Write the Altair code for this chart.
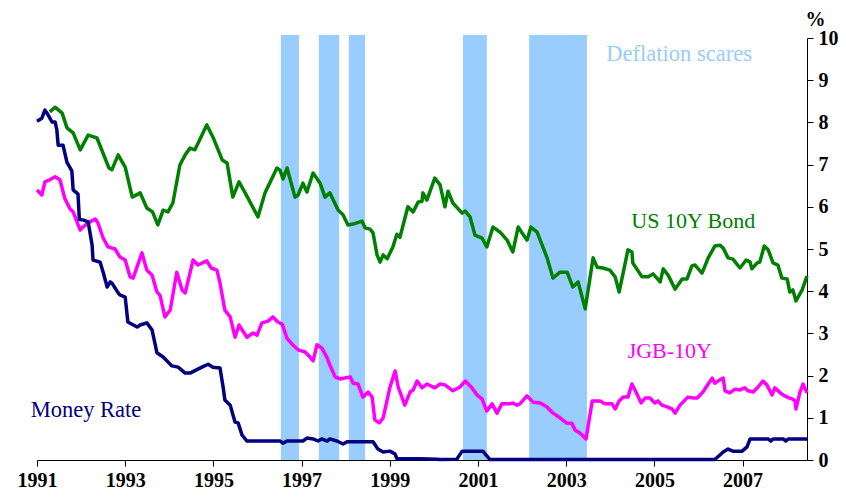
import altair as alt
import pandas as pd

BASE = 1991

# US 10Y Bond yield (years after 1991, %)
us_t = [0.29,0.41,0.57,0.68,0.82,0.98,1.16,1.36,1.63,1.70,
        1.84,2.00,2.16,2.34,2.49,2.62,2.74,2.86,2.97,3.08,
        3.24,3.36,3.47,3.58,3.85,3.99,4.20,4.31,4.44,4.58,
        4.72,5.01,5.17,5.44,5.51,5.58,5.67,5.85,5.92,6.03,
        6.12,6.26,6.42,6.53,6.64,6.83,6.94,7.05,7.17,7.37,
        7.44,7.55,7.62,7.71,7.78,7.85,7.94,8.07,8.16,8.23,
        8.41,8.53,8.64,8.73,8.75,8.84,9.02,9.14,9.25,9.32,
        9.43,9.64,9.71,9.82,9.93,10.09,10.20,10.34,10.50,10.66,
        10.79,10.91,11.11,11.20,11.34,11.56,11.70,11.86,12.02,12.15,
        12.27,12.43,12.61,12.70,12.83,12.99,13.11,13.20,13.40,13.49,
        13.51,13.72,13.86,13.97,14.13,14.20,14.31,14.47,14.63,14.74,
        14.85,14.92,15.08,15.22,15.37,15.49,15.56,15.67,15.78,15.94,
        16.08,16.17,16.21,16.33,16.39,16.49,16.58,16.69,16.80,16.89,
        17.01,17.07,17.14,17.21,17.35,17.46]
us_v = [8.25,8.36,8.22,7.87,7.75,7.35,7.70,7.63,6.92,6.88,
        7.23,6.94,6.23,6.33,5.97,5.88,5.57,5.92,5.88,6.09,
        6.99,7.23,7.39,7.35,7.94,7.65,7.11,7.04,6.23,6.59,
        6.33,5.76,6.33,6.92,6.87,6.66,6.92,6.23,6.28,6.56,
        6.35,6.80,6.56,6.23,6.33,5.92,5.81,5.57,5.59,5.66,
        5.50,5.47,5.38,4.86,4.69,4.86,4.77,5.05,5.35,5.28,
        6.00,5.88,6.11,6.13,6.33,6.16,6.68,6.52,6.00,6.37,
        6.09,5.85,5.90,5.76,5.33,5.26,5.05,5.52,5.40,5.21,
        4.93,5.52,5.21,5.52,5.40,4.81,4.31,4.45,4.45,4.10,
        4.22,3.58,4.79,4.57,4.55,4.50,4.34,3.98,4.98,4.93,
        4.67,4.34,4.34,4.41,4.22,4.53,4.38,4.05,4.29,4.29,
        4.60,4.62,4.43,4.79,5.07,5.09,5.02,4.79,4.76,4.55,
        4.74,4.69,4.53,4.67,4.69,5.07,4.98,4.67,4.62,4.31,
        4.29,3.98,4.03,3.77,4.03,4.36]

# JGB 10Y yield
jgb_t = [0,0.11,0.18,0.29,0.41,0.52,0.63,0.75,0.82,0.98,
         1.04,1.16,1.32,1.38,1.50,1.61,1.77,1.88,2.00,2.11,
         2.18,2.38,2.49,2.61,2.72,2.79,2.90,3.02,3.17,3.29,
         3.36,3.54,3.65,3.85,3.95,4.08,4.15,4.26,4.38,4.49,
         4.58,4.76,4.90,4.99,5.10,5.24,5.35,5.46,5.56,5.67,
         5.78,5.92,6.08,6.19,6.26,6.35,6.46,6.58,6.64,6.76,
         6.87,7.10,7.17,7.28,7.39,7.51,7.60,7.66,7.76,7.85,
         8.00,8.12,8.19,8.34,8.46,8.53,8.62,8.73,8.84,9.02,
         9.14,9.25,9.43,9.59,9.71,9.86,9.98,10.09,10.20,10.32,
         10.43,10.54,10.73,10.79,10.88,10.95,11.11,11.25,11.41,11.56,
         11.70,11.86,12.02,12.13,12.20,12.31,12.45,12.59,12.77,12.88,
         13.04,13.11,13.20,13.29,13.40,13.49,13.56,13.70,13.79,13.90,
         14.01,14.08,14.17,14.29,14.40,14.47,14.58,14.76,14.88,14.97,
         15.10,15.22,15.31,15.37,15.44,15.56,15.60,15.71,15.83,15.94,
         16.05,16.12,16.24,16.35,16.46,16.55,16.67,16.73,16.89,17.01,
         17.12,17.19,17.21,17.30,17.37,17.46]
jgb_v = [6.40,6.28,6.59,6.64,6.71,6.64,6.20,5.95,5.88,5.45,
         5.52,5.62,5.71,5.62,5.26,5.05,5.00,4.81,4.74,4.34,
         4.31,4.91,4.50,4.38,3.98,3.90,3.39,3.55,4.45,4.03,
         3.96,4.74,4.62,4.72,4.55,4.50,4.19,3.55,3.39,2.91,
         3.20,2.91,3.01,2.96,3.25,3.29,3.39,3.27,3.22,2.88,
         2.75,2.61,2.56,2.44,2.35,2.73,2.65,2.42,2.25,1.97,
         1.92,1.97,1.82,1.80,1.49,1.61,1.49,0.95,0.88,1.00,
         1.71,2.11,1.73,1.30,1.61,1.66,1.87,1.71,1.80,1.71,
         1.80,1.78,1.64,1.73,1.87,1.71,1.54,1.45,1.16,1.33,
         1.11,1.33,1.33,1.35,1.30,1.33,1.52,1.37,1.35,1.26,
         1.11,1.00,0.87,0.87,0.71,0.64,0.50,1.40,1.40,1.33,
         1.33,1.21,1.40,1.49,1.49,1.80,1.66,1.35,1.47,1.47,
         1.35,1.40,1.30,1.26,1.21,1.11,1.30,1.49,1.47,1.47,
         1.61,1.80,1.94,1.82,1.87,1.94,1.64,1.59,1.68,1.66,
         1.71,1.64,1.61,1.73,1.87,1.78,1.54,1.71,1.56,1.49,
         1.45,1.40,1.21,1.61,1.80,1.59]

# Money rate
mr_t = [0,0.11,0.18,0.25,0.34,0.41,0.45,0.48,0.59,0.68,
        0.79,0.82,0.93,0.96,1.04,1.16,1.25,1.27,1.43,1.50,
        1.59,1.66,1.70,1.84,1.88,2.00,2.06,2.27,2.34,2.49,
        2.61,2.72,2.86,3.06,3.20,3.36,3.47,3.74,3.88,3.99,
        4.15,4.22,4.26,4.38,4.49,4.56,4.65,4.76,5.51,5.58,
        5.67,6.03,6.12,6.26,6.37,6.46,6.58,6.64,6.80,6.94,
        7.03,7.62,7.73,7.85,8.00,8.12,8.16,8.68,9.07,9.14,
        9.52,9.64,10.11,10.27,15.37,15.56,15.67,15.78,15.99,16.10,
        16.17,16.58,16.64,16.69,16.92,16.98,17.03,17.46]
mr_v = [8.03,8.10,8.29,8.18,8.01,8.01,7.82,7.46,7.46,7.05,
        6.85,6.40,6.30,5.70,5.69,5.64,5.09,4.74,4.69,4.45,
        4.10,4.22,4.19,3.96,3.91,3.86,3.27,3.15,3.20,3.25,
        3.08,2.54,2.44,2.23,2.20,2.06,2.06,2.20,2.27,2.20,
        2.18,1.73,1.42,1.30,0.90,0.88,0.59,0.45,0.45,0.40,
        0.45,0.45,0.52,0.50,0.45,0.50,0.45,0.50,0.45,0.38,
        0.43,0.43,0.26,0.19,0.21,0.14,0.03,0.03,0.02,0.01,
        0.02,0.21,0.21,0.01,0.01,0.19,0.26,0.21,0.21,0.31,
        0.50,0.50,0.45,0.50,0.50,0.45,0.50,0.50]

# Deflation scare periods
band_start = [1996.53, 1997.39, 1998.07, 2000.66, 2002.16]
band_end = [1996.94, 1997.85, 1998.44, 2001.20, 2003.47]

series_names = ["US 10Y Bond", "JGB-10Y", "Money Rate"]
series_colors = ["#008000", "#FF00FF", "#000080"]

x_ticks = [1991, 1993, 1995, 1997, 1999, 2001, 2003, 2005, 2007]
y_ticks = [0, 1, 2, 3, 4, 5, 6, 7, 8, 9, 10]

labels = ["Deflation scares", "US 10Y Bond", "JGB-10Y", "Money Rate"]
label_x = [2005.56, 2005.88, 2005.35, 1992.11]
label_y = [9.62, 5.66, 2.58, 1.18]
label_c = ["#99CCFF", "#008000", "#FF00FF", "#000080"]
label_s = [22.5, 22, 22, 22.5]

FONT = "Liberation Serif"

rows = []
for name, ts, vs in zip(series_names, [us_t, jgb_t, mr_t], [us_v, jgb_v, mr_v]):
    for i, (t, v) in enumerate(zip(ts, vs)):
        rows.append({"series": name, "year": BASE + t, "value": v, "idx": i})
lines_df = pd.DataFrame(rows)

bands_df = pd.DataFrame({"start": band_start, "end": band_end,
                         "lo": [0] * len(band_start), "hi": [10.07] * len(band_start)})
labels_df = pd.DataFrame({"label": labels, "x": label_x, "y": label_y,
                          "c": label_c, "s": label_s})

x_scale = alt.Scale(domain=[1991, 2008.46], nice=False, zero=False)
y_scale = alt.Scale(domain=[0, 10], nice=False)

x_axis = alt.Axis(values=x_ticks, format="d", title=None, grid=False,
                  tickSize=6, tickColor="black", domainColor="black",
                  labelFont=FONT, labelFontSize=20, labelFontWeight="bold",
                  labelColor="black", labelPadding=4, labelFlush=False,
                  labelOverlap=False)
y_axis = alt.Axis(orient="right", values=y_ticks, title="%", titleAngle=0,
                  titleX=8, titleY=-19, titleAlign="center", titleBaseline="middle",
                  titleFont=FONT, titleFontSize=20, titleFontWeight="bold",
                  titleColor="black", grid=False, tickSize=6, tickColor="black",
                  domainColor="black", labelFont=FONT, labelFontSize=20,
                  labelFontWeight="bold", labelColor="black", labelPadding=5,
                  labelBaseline="middle")

bands = alt.Chart(bands_df).mark_rect(color="#99CCFF", clip=False).encode(
    x=alt.X("start:Q", scale=x_scale, axis=x_axis),
    x2="end:Q",
    y=alt.Y("lo:Q", scale=y_scale, axis=y_axis),
    y2="hi:Q",
)

lines = alt.Chart(lines_df).mark_line(strokeWidth=3.5, strokeJoin="round").encode(
    x=alt.X("year:Q", scale=x_scale, axis=x_axis),
    y=alt.Y("value:Q", scale=y_scale, axis=y_axis),
    color=alt.Color("series:N", scale=alt.Scale(domain=series_names, range=series_colors),
                    legend=None),
    order="idx:Q",
)

texts = alt.Chart(labels_df).mark_text(font=FONT, align="center", baseline="middle").encode(
    x=alt.X("x:Q", scale=x_scale, axis=x_axis),
    y=alt.Y("y:Q", scale=y_scale, axis=y_axis),
    text="label:N",
    color=alt.Color("c:N", scale=None),
    size=alt.Size("s:Q", scale=None),
)

chart = alt.layer(bands, lines, texts).properties(
    width=770, height=422,
    autosize="none",
    padding={"left": 29, "top": 30, "right": 31, "bottom": 34},
    background="white",
).configure_view(stroke=None)

chart.save("out.html", embed_options={"renderer": "svg", "actions": False})
